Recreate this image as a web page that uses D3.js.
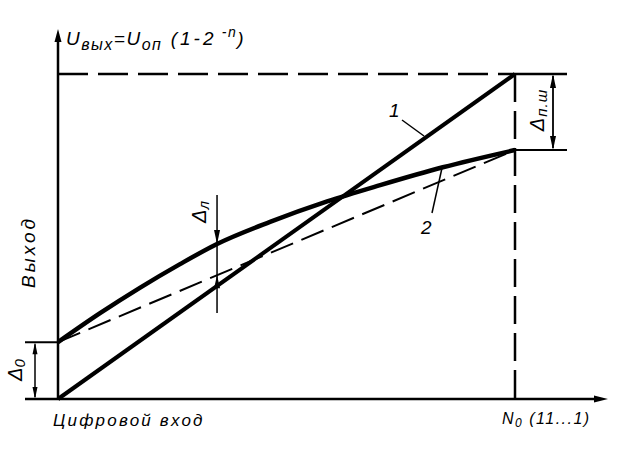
<!DOCTYPE html>
<html><head><meta charset="utf-8">
<script src="https://cdn.jsdelivr.net/npm/d3@7"></script>
<style>
html,body{margin:0;padding:0;background:#fff;}
svg{display:block;}
text{font-family:"Liberation Sans","DejaVu Sans",sans-serif;font-style:italic;fill:#000;}
</style></head>
<body>
<script>
// Normalised data: x = digital input (0..N0), y = output (0..Uоп)
const idealX = [0, 1];
const idealY = [0, 1];
const realX = [0, 0.092, 0.179, 0.267, 0.348, 0.464, 0.589, 0.705, 0.842, 1];
const realY = [0.175, 0.264, 0.342, 0.415, 0.477, 0.545, 0.608, 0.658, 0.713, 0.766];
const chordX = [0, 1];
const chordY = [0.175, 0.766];
const deltaLX = 0.348;         // position of Δл marker
const curveLabels = ["1", "2"];

const W = 624, H = 454;
const svg = d3.select("body").append("svg").attr("width", W).attr("height", H);
const x = d3.scaleLinear().domain([0, 1]).range([58, 515]);
const y = d3.scaleLinear().domain([0, 1]).range([399, 74]);
const line = d3.line().x(d => x(d[0])).y(d => y(d[1]));
const curve = d3.line().x(d => x(d[0])).y(d => y(d[1])).curve(d3.curveMonotoneX);

function arrow(tx, ty, dir, len, half) {
  let p;
  if (dir === "up") p = [[tx, ty], [tx - half, ty + len], [tx + half, ty + len]];
  else if (dir === "down") p = [[tx, ty], [tx - half, ty - len], [tx + half, ty - len]];
  else p = [[tx, ty], [tx - len, ty - half], [tx - len, ty + half]];
  svg.append("path").attr("d", "M" + p.join("L") + "Z").attr("fill", "#000");
}
function seg(x1, y1, x2, y2, w, dash) {
  const l = svg.append("line").attr("x1", x1).attr("y1", y1).attr("x2", x2).attr("y2", y2)
    .attr("stroke", "#000").attr("stroke-width", w);
  if (dash) l.attr("stroke-dasharray", dash);
  return l;
}

// Axes
seg(x(0), y(0), x(0), 36, 2.5);
arrow(x(0), 29, "up", 13, 3.5);
seg(25, y(0), 600, y(0), 2.5);
arrow(608, y(0), "right", 14, 3.5);

// Reference dashed lines
seg(x(0), y(1), x(1), y(1), 2.5, "30,10");
seg(x(1), y(1), 567, y(1), 2.5);
seg(x(1), y(1), x(1), y(0), 2.5, "28,9");
seg(x(1), y(realY[realY.length - 1]), 567, y(realY[realY.length - 1]), 2);

// Chord (dashed)
svg.append("path").datum(d3.zip(chordX, chordY)).attr("d", line)
  .attr("fill", "none").attr("stroke", "#000").attr("stroke-width", 2).attr("stroke-dasharray", "24,9");
// Ideal line 1
svg.append("path").datum(d3.zip(idealX, idealY)).attr("d", line)
  .attr("fill", "none").attr("stroke", "#000").attr("stroke-width", 4);
// Real curve 2
svg.append("path").datum(d3.zip(realX, realY)).attr("d", curve)
  .attr("fill", "none").attr("stroke", "#000").attr("stroke-width", 4.5);

// Δ0
seg(25, y(chordY[0]), x(0), y(chordY[0]), 2);
seg(35, y(chordY[0]) + 2, 35, y(0) - 2, 1.5);
arrow(35, y(chordY[0]), "up", 12, 2.5);
arrow(35, y(0), "down", 12, 2.5);

// Δпш
const yEnd = y(realY[realY.length - 1]);
seg(553, y(1) + 2, 553, yEnd - 2, 1.8);
arrow(553, y(1), "up", 14, 3);
arrow(553, yEnd, "down", 14, 3);

// Δл
const dlx = x(deltaLX);
const dlTop = y(realY[4]);
const dlBot = y(chordY[0] + (chordY[1] - chordY[0]) * deltaLX);
seg(dlx, 195, dlx, 313, 1.5);
arrow(dlx, dlTop, "down", 14, 3);
arrow(dlx, dlBot, "up", 13, 3);

// Leaders for labels
seg(402, 120, 424, 136, 1.5);
seg(432, 213, 442, 168, 1.5);
svg.append("text").attr("x", 389).attr("y", 117).attr("font-size", 19).text(curveLabels[0]);
svg.append("text").attr("x", 421).attr("y", 234).attr("font-size", 19).text(curveLabels[1]);

// Rotated labels
function rot(cx, cy, size, parts, ls) {
  const t = svg.append("text").attr("transform", `translate(${cx},${cy}) rotate(-90)`)
    .attr("text-anchor", "middle").attr("font-size", size);
  if (ls) t.attr("letter-spacing", ls);
  parts.forEach(p => {
    const s = t.append("tspan").text(p.t);
    if (p.sub) s.attr("font-size", size * 0.75).attr("dy", p.dy);
  });
}
rot(35, 252, 19, [{t: "Выход"}], 3);
rot(22, 370, 20, [{t: "Δ"}, {t: "0", sub: true, dy: 3}]);
rot(206, 212, 20, [{t: "Δ"}, {t: "л", sub: true, dy: 3}]);
rot(544, 110, 20, [{t: "Δ"}, {t: "п.ш", sub: true, dy: 3}], 1);

// Top formula
const f = svg.append("text").attr("x", 66).attr("y", 45).attr("font-size", 19).attr("letter-spacing", 1.5);
f.append("tspan").text("U");
f.append("tspan").text("вых").attr("font-size", 16).attr("dy", 5);
f.append("tspan").text("=U").attr("dy", -5);
f.append("tspan").text("оп").attr("font-size", 16).attr("dy", 5);
f.append("tspan").text(" (1-2").attr("dy", -5).attr("letter-spacing", 3);
f.append("tspan").text(" -n").attr("font-size", 14).attr("dy", -8);
f.append("tspan").text(")").attr("dy", 8);

// Bottom labels
svg.append("text").attr("x", 53).attr("y", 426).attr("font-size", 17).attr("letter-spacing", 2.2).text("Цифровой вход");
const n = svg.append("text").attr("x", 502).attr("y", 424).attr("font-size", 16).attr("letter-spacing", 1.5);
n.append("tspan").text("N");
n.append("tspan").text("0").attr("font-size", 12).attr("dy", 3);
n.append("tspan").text(" (11...1)").attr("dy", -3);
</script>
</body></html>
